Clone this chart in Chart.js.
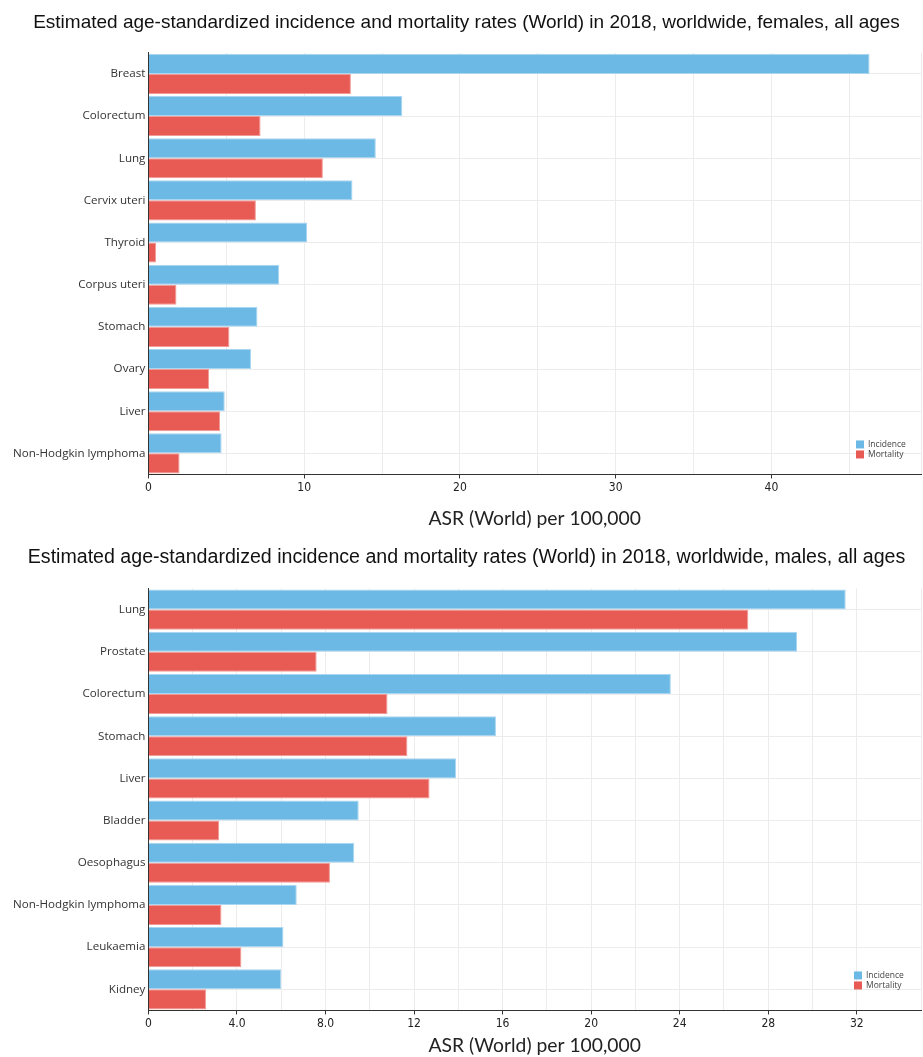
<!DOCTYPE html>
<html>
<head>
<meta charset="utf-8">
<script src="https://cdn.jsdelivr.net/npm/chart.js@4/dist/chart.umd.min.js"></script>
<style>
  body { margin: 0; background: #fff; }
  .box { position: absolute; left: 0; width: 923px; }
  #top { top: 0; height: 532px; }
  #bottom { top: 535px; height: 522px; }
</style>
</head>
<body>
<div class="box" id="top"><canvas id="chartFemales"></canvas></div>
<div class="box" id="bottom"><canvas id="chartMales"></canvas></div>
<script>
// Females
const femaleSites = ['Breast', 'Colorectum', 'Lung', 'Cervix uteri', 'Thyroid', 'Corpus uteri', 'Stomach', 'Ovary', 'Liver', 'Non-Hodgkin lymphoma'];
const femaleIncidence = [46.3, 16.3, 14.6, 13.1, 10.2, 8.4, 7.0, 6.6, 4.9, 4.7];
const femaleMortality = [13.0, 7.2, 11.2, 6.9, 0.5, 1.8, 5.2, 3.9, 4.6, 2.0];

// Males
const maleSites = ['Lung', 'Prostate', 'Colorectum', 'Stomach', 'Liver', 'Bladder', 'Oesophagus', 'Non-Hodgkin lymphoma', 'Leukaemia', 'Kidney'];
const maleIncidence = [31.5, 29.3, 23.6, 15.7, 13.9, 9.5, 9.3, 6.7, 6.1, 6.0];
const maleMortality = [27.1, 7.6, 10.8, 11.7, 12.7, 3.2, 8.2, 3.3, 4.2, 2.6];

const seriesNames = ['Incidence', 'Mortality'];
const axisTitle = 'ASR (World) per 100,000';

const blue = '#6cb9e5';
const red = '#e85a54';

// small legend drawn inside the plot, bottom right
const cornerLegend = {
    id: 'cornerLegend',
    afterDraw(chart, args, opts) {
        const ctx = chart.ctx;
        const area = chart.chartArea;
        ctx.save();
        ctx.font = '8.5px "Open Sans"';
        ctx.textBaseline = 'middle';
        chart.data.datasets.forEach((ds, i) => {
            const x = area.right - opts.right;
            const y = area.bottom - opts.bottom + i * 10;
            ctx.fillStyle = ds.backgroundColor;
            ctx.fillRect(x, y - 4, 8, 8);
            ctx.fillStyle = '#444';
            ctx.fillText(ds.label, x + 12, y);
        });
        ctx.restore();
    }
};

function makeChart(canvasId, title, sites, incidence, mortality, opt) {
    return new Chart(document.getElementById(canvasId), {
        type: 'bar',
        data: {
            labels: sites,
            datasets: [{
                label: seriesNames[0],
                data: incidence,
                backgroundColor: blue,
                borderColor: '#a9d6f0',
                borderWidth: 1,
                barPercentage: 1,
                categoryPercentage: 0.95
            }, {
                label: seriesNames[1],
                data: mortality,
                backgroundColor: red,
                borderColor: '#f29a95',
                borderWidth: 1,
                barPercentage: 1,
                categoryPercentage: 0.95
            }]
        },
        options: {
            indexAxis: 'y',
            responsive: true,
            maintainAspectRatio: false,
            animation: false,
            layout: { padding: { left: 10, right: 0, bottom: opt.bottomPad } },
            plugins: {
                legend: { display: false },
                tooltip: { enabled: false },
                title: {
                    display: true,
                    text: title,
                    color: '#111',
                    font: { family: '"Liberation Sans", Arial, sans-serif', size: opt.titleSize, weight: 'normal' },
                    padding: { top: 11, bottom: 19 }
                },
                cornerLegend: opt.legend
            },
            scales: {
                x: {
                    min: 0,
                    max: opt.xMax,
                    border: { color: '#333', width: 1 },
                    grid: {
                        color: '#ececec',
                        tickLength: 4,
                        tickColor: c => (c.tick && Math.abs(c.tick.value % opt.labelEvery) < 1e-6) ? '#333' : 'rgba(0,0,0,0)'
                    },
                    ticks: {
                        stepSize: opt.step,
                        autoSkip: false,
                        maxRotation: 0,
                        padding: 2,
                        color: '#222',
                        font: { family: '"Liberation Sans Narrow", "DejaVu Sans Condensed", sans-serif', size: 12 },
                        callback: v => (Math.abs(v % opt.labelEvery) < 1e-6) ? opt.fmt(v) : ''
                    },
                    title: {
                        display: true,
                        text: axisTitle,
                        color: '#222',
                        font: { family: 'Lato, "Open Sans", sans-serif', size: 19.3 },
                        padding: { top: opt.axisTitlePad, bottom: 0 }
                    }
                },
                y: {
                    border: { color: '#333', width: 1 },
                    grid: { color: '#ececec', offset: false, drawTicks: false },
                    ticks: {
                        color: '#333',
                        padding: 3,
                        font: { family: '"Open Sans", sans-serif', size: 11.6 }
                    }
                }
            }
        },
        plugins: [cornerLegend]
    });
}

makeChart('chartFemales',
    'Estimated age-standardized incidence and mortality rates (World) in 2018, worldwide, females, all ages',
    femaleSites, femaleIncidence, femaleMortality,
    { xMax: 49.6, step: 5, labelEvery: 10, fmt: v => String(v),
      titleSize: 19, axisTitlePad: 10, bottomPad: 2, legend: { right: 65, bottom: 30 } });

makeChart('chartMales',
    'Estimated age-standardized incidence and mortality rates (World) in 2018, worldwide, males, all ages',
    maleSites, maleIncidence, maleMortality,
    { xMax: 34.9, step: 2, labelEvery: 4, fmt: v => (v === 0 ? '0' : (v < 10 ? v.toFixed(1) : String(v))),
      titleSize: 19.6, axisTitlePad: 1, bottomPad: 0, legend: { right: 67, bottom: 35 } });
</script>
</body>
</html>
